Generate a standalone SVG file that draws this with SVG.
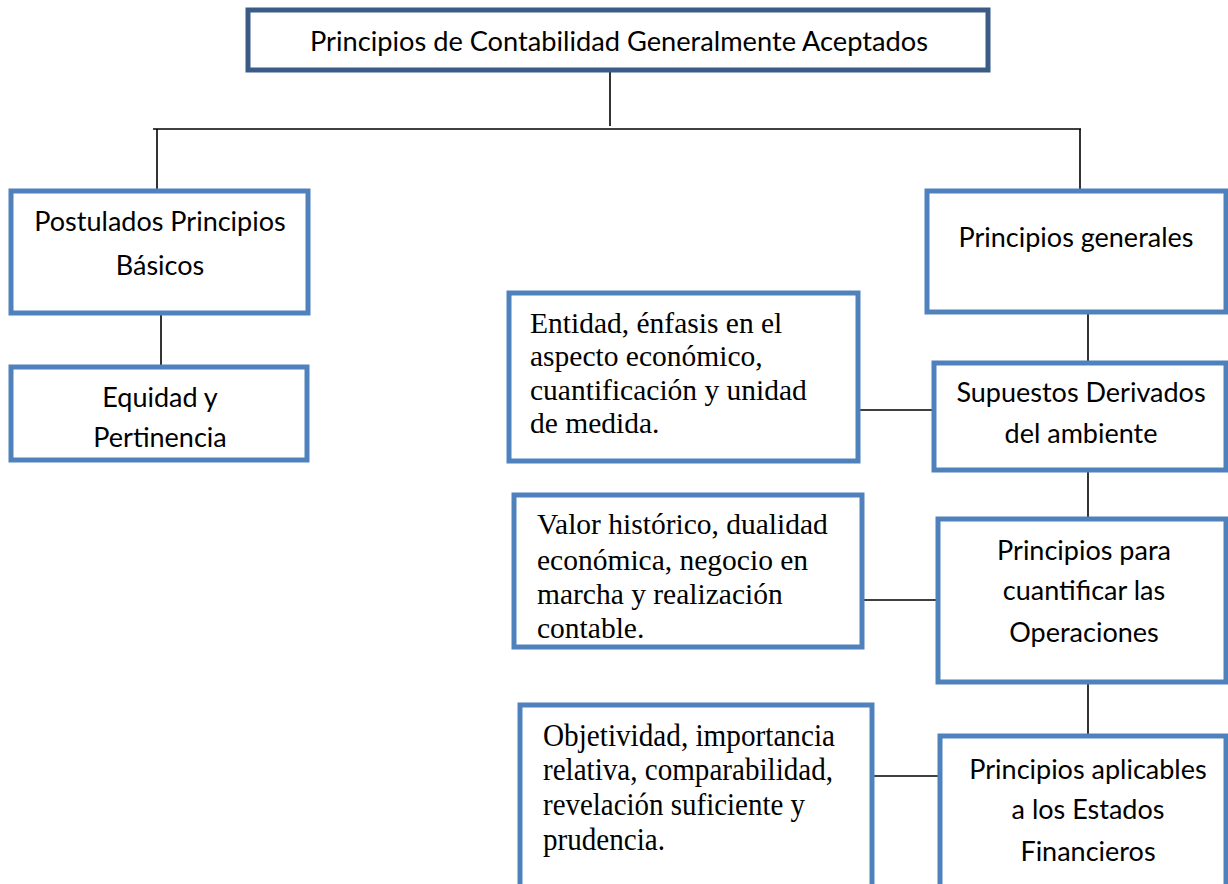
<svg xmlns="http://www.w3.org/2000/svg" width="1228" height="884" viewBox="0 0 1228 884">
<style>
.box{fill:#fff;stroke:#4F81BD;stroke-width:5}
.top{fill:#fff;stroke:#3B5B87;stroke-width:5}
.s{font-family:Lato,"Open Sans",sans-serif;font-size:27px;fill:#000;text-anchor:middle}
.r{font-family:"Liberation Serif","Times New Roman",serif;font-size:29.5px;fill:#000}
.rc{font-family:"Liberation Serif","Times New Roman",serif;font-size:32px;fill:#000}
.c{stroke:#000;stroke-width:1.6;fill:none}
</style>
<rect width="1228" height="884" fill="#fff"/>
<g id="connectors">
<line class="c" x1="610" y1="72" x2="610" y2="126"/>
<line class="c" x1="153" y1="129" x2="1081" y2="129"/>
<line class="c" x1="157" y1="129" x2="157" y2="189"/>
<line class="c" x1="1080" y1="129" x2="1080" y2="190"/>
<line class="c" x1="161" y1="313" x2="161" y2="365"/>
<line class="c" x1="1088" y1="312" x2="1088" y2="362"/>
<line class="c" x1="858" y1="410" x2="933" y2="410"/>
<line class="c" x1="1088" y1="470" x2="1088" y2="519"/>
<line class="c" x1="862" y1="600" x2="937" y2="600"/>
<line class="c" x1="1088" y1="683" x2="1088" y2="735"/>
<line class="c" x1="872" y1="776" x2="939" y2="776"/>
</g>
<g id="title">
<rect class="top" x="248" y="10" width="740" height="60"/>
<text class="s" x="619" y="51" textLength="618" lengthAdjust="spacingAndGlyphs">Principios de Contabilidad Generalmente Aceptados</text>
</g>
<g id="postulados">
<rect class="box" x="11" y="191" width="297" height="122"/>
<text class="s" x="160" y="231">Postulados Principios</text>
<text class="s" x="160" y="275">Básicos</text>
</g>
<g id="equidad">
<rect class="box" x="11" y="367" width="296" height="93"/>
<text class="s" x="160" y="407">Equidad y</text>
<text class="s" x="160" y="447">Pertinencia</text>
</g>
<g id="generales">
<rect class="box" x="927" y="191" width="299" height="121"/>
<text class="s" x="1076" y="247">Principios generales</text>
</g>
<g id="supuestos">
<rect class="box" x="934" y="363" width="292" height="107"/>
<text class="s" x="1081" y="402">Supuestos Derivados</text>
<text class="s" x="1081" y="443">del ambiente</text>
</g>
<g id="entidad">
<rect class="box" x="509" y="293" width="349" height="168"/>
<text class="r" x="530" y="333">Entidad, énfasis en el</text>
<text class="r" x="530" y="366">aspecto económico,</text>
<text class="r" x="530" y="400">cuantificación y unidad</text>
<text class="r" x="530" y="433">de medida.</text>
</g>
<g id="cuantificar">
<rect class="box" x="938" y="519" width="288" height="163"/>
<text class="s" x="1084" y="560">Principios para</text>
<text class="s" x="1084" y="600">cuantificar las</text>
<text class="s" x="1084" y="642">Operaciones</text>
</g>
<g id="valor">
<rect class="box" x="514" y="495" width="348" height="152"/>
<text class="r" x="537" y="534">Valor histórico, dualidad</text>
<text class="r" x="537" y="570">económica, negocio en</text>
<text class="r" x="537" y="604">marcha y realización</text>
<text class="r" x="537" y="638">contable.</text>
</g>
<g id="aplicables">
<rect class="box" x="940" y="736" width="286" height="160"/>
<text class="s" x="1088" y="779">Principios aplicables</text>
<text class="s" x="1088" y="819">a los Estados</text>
<text class="s" x="1088" y="861">Financieros</text>
</g>
<g id="objetividad">
<rect class="box" x="520" y="705" width="352" height="190"/>
<text class="rc" x="543" y="746" textLength="292" lengthAdjust="spacingAndGlyphs">Objetividad, importancia</text>
<text class="rc" x="543" y="780" textLength="290" lengthAdjust="spacingAndGlyphs">relativa, comparabilidad,</text>
<text class="rc" x="543" y="815" textLength="262" lengthAdjust="spacingAndGlyphs">revelación suficiente y</text>
<text class="rc" x="543" y="850" textLength="122" lengthAdjust="spacingAndGlyphs">prudencia.</text>
</g>
</svg>
